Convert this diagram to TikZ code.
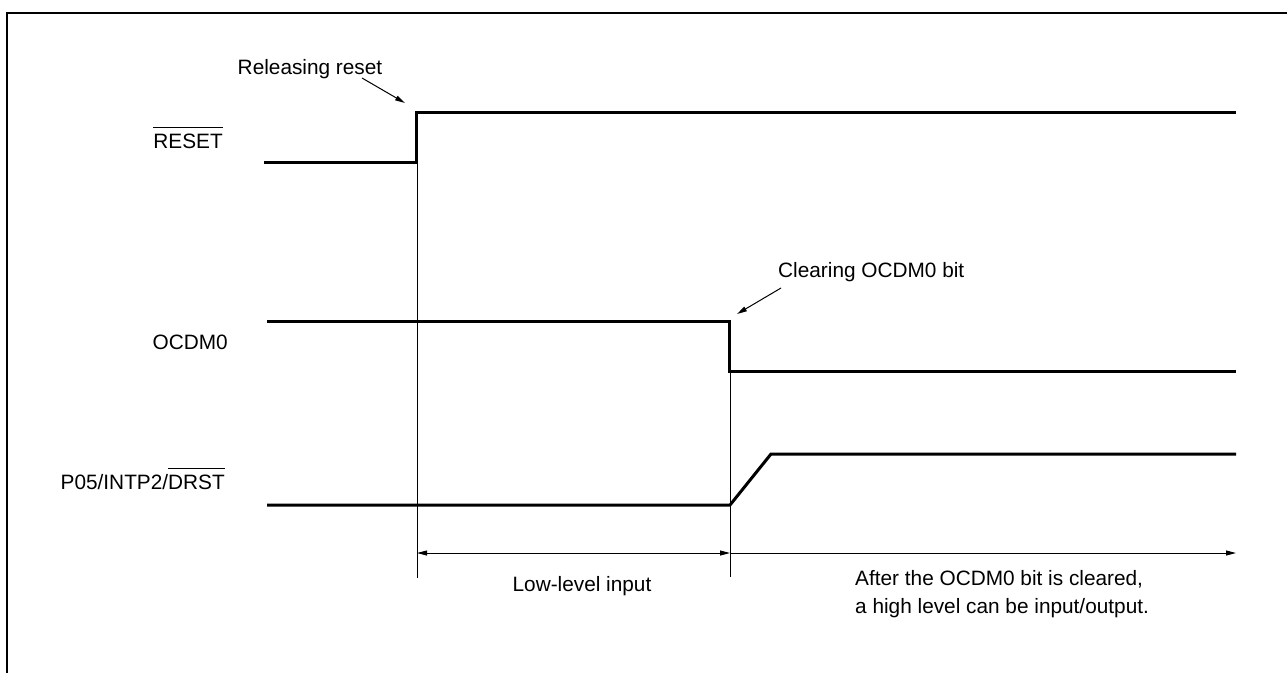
\documentclass[tikz,border=0pt]{standalone}
\usepackage{fontspec}
\setmainfont{Liberation Sans}
\usetikzlibrary{arrows.meta}
\newcommand\ovbar[1]{\leavevmode\vbox{\hrule height 1.3pt\kern 6pt\hbox{#1}}}
\tikzset{
  wave/.style={line width=3pt, line join=miter},
  thin/.style={line width=1pt},
  frame/.style={line width=2.5pt},
  lbl/.style={inner sep=0pt, font=\fontsize{20.8}{28}\selectfont},
  tip/.style={-{Triangle[length=10pt,width=5pt]}},
  dim/.style={thin, {Triangle[length=10pt,width=5pt]}-{Triangle[length=10pt,width=5pt]}}
}
\begin{document}
\begin{tikzpicture}[x=1pt,y=-1pt]
\useasboundingbox (0,0) rectangle (1287,673);
% frame
\draw[frame] (7,673) -- (7,13) -- (1287,13);
% coordinates
\coordinate (r0) at (264,162);
\coordinate (r1) at (416,162);
\coordinate (r2) at (416,112);
\coordinate (r3) at (1236,112);
\coordinate (o0) at (267,321);
\coordinate (o1) at (729,321);
\coordinate (o2) at (729,371);
\coordinate (o3) at (1236,371);
\coordinate (p0) at (267,505);
\coordinate (p1) at (730,505);
\coordinate (p2) at (771,454);
\coordinate (p3) at (1236,454);
\coordinate (v1top) at (417,112);
\coordinate (v1bot) at (417,578);
\coordinate (v2top) at (730,371);
\coordinate (v2bot) at (730,577);
\coordinate (d1) at (417,553);
\coordinate (d2) at (730,553);
\coordinate (d3) at (1236,553);
\coordinate (a1s) at (362,78);
\coordinate (a1e) at (405,103);
\coordinate (a2s) at (781,288);
\coordinate (a2e) at (737,314);
% signal labels
\node[lbl, anchor=base east] (lreset) at (223,148.5) {\ovbar{RESET}};
\node[lbl, anchor=base east] (locdm) at (228,349.5) {OCDM0};
\node[lbl, anchor=base east] (lp05) at (225,489.5) {P05/INTP2/\ovbar{DRST}};
% waveforms
\draw[wave] (r0) -- (r1) -- (r2) -- (r3);
\draw[wave] (o0) -- (o1) -- (o2) -- (o3);
\draw[wave] (p0) -- (p1) -- (p2) -- (p3);
% verticals
\draw[thin] (v1top) -- (v1bot);
\draw[thin] (v2top) -- (v2bot);
% dimension lines
\draw[dim] (d1) -- (d2);
\draw[thin, tip] (d2) -- (d3);
% annotations
\node[lbl, anchor=base] (trel) at (310,74.5) {Releasing reset};
\draw[thin, tip] (a1s) -- (a1e);
\node[lbl, anchor=base west] (tclr) at (778,277) {Clearing OCDM0 bit};
\draw[thin, tip] (a2s) -- (a2e);
\node[lbl, anchor=base] (tlow) at (582,591) {Low-level input};
\node[lbl, anchor=base west] (taft1) at (855,585.5) {After the OCDM0 bit is cleared,};
\node[lbl, anchor=base west] (taft2) at (855,613.5) {a high level can be input/output.};
\end{tikzpicture}
\end{document}
